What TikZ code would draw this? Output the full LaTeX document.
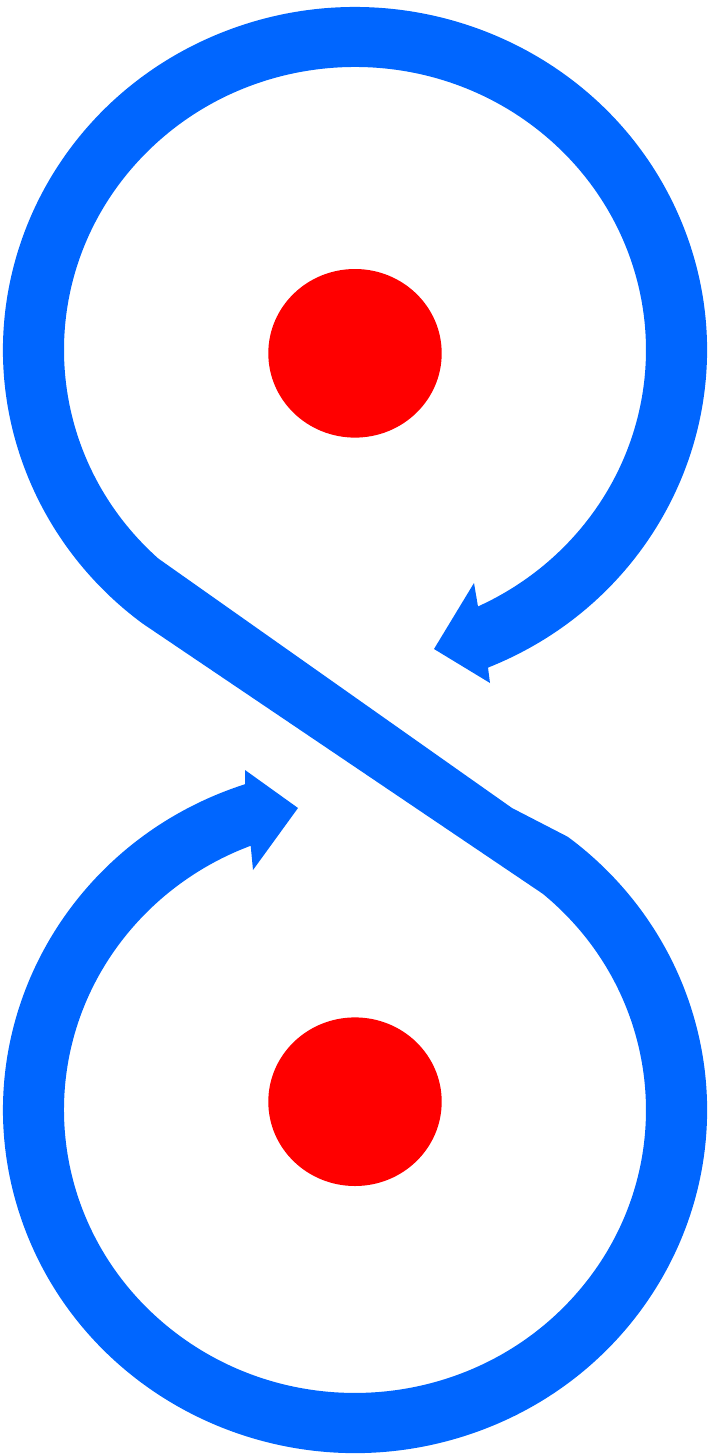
\documentclass[tikz,border=0pt]{standalone}
\usepackage{tikz}
\definecolor{bandblue}{RGB}{0,102,255}
\definecolor{dotred}{RGB}{255,0,0}
\tikzset{
  band/.style={fill=bandblue},
  dot/.style={fill=dotred}
}
\begin{document}
\begin{tikzpicture}[x=1pt,y=-1pt]
\useasboundingbox (0,0) rectangle (712,1456);
\coordinate (topc) at (355,350);
\coordinate (botc) at (355,1110);
% figure-eight band with two arrow heads
\path[band]
  (488.0,667.6)
  arc[start angle=67.8, end angle=-232.9, x radius=352, y radius=343]
  -- (542.8,893.8)
  arc[start angle=-49.8, end angle=249, x radius=291, y radius=283]
  -- (253,870) -- (298,808) -- (245,770) -- (245.1,784.2)
  arc[start angle=251.8, end angle=-52.8, x radius=352, y radius=343]
  -- (512,808) -- (158.4,558.6)
  arc[start angle=132.5, end angle=425, x radius=291, y radius=283]
  -- (474,583) -- (434,649) -- (490,683) -- cycle;
% red dots
\fill[dot] (355,353.3) ellipse[x radius=86.7, y radius=84.3];
\fill[dot] (355,1101.7) ellipse[x radius=86.7, y radius=84.3];
\end{tikzpicture}
\end{document}
